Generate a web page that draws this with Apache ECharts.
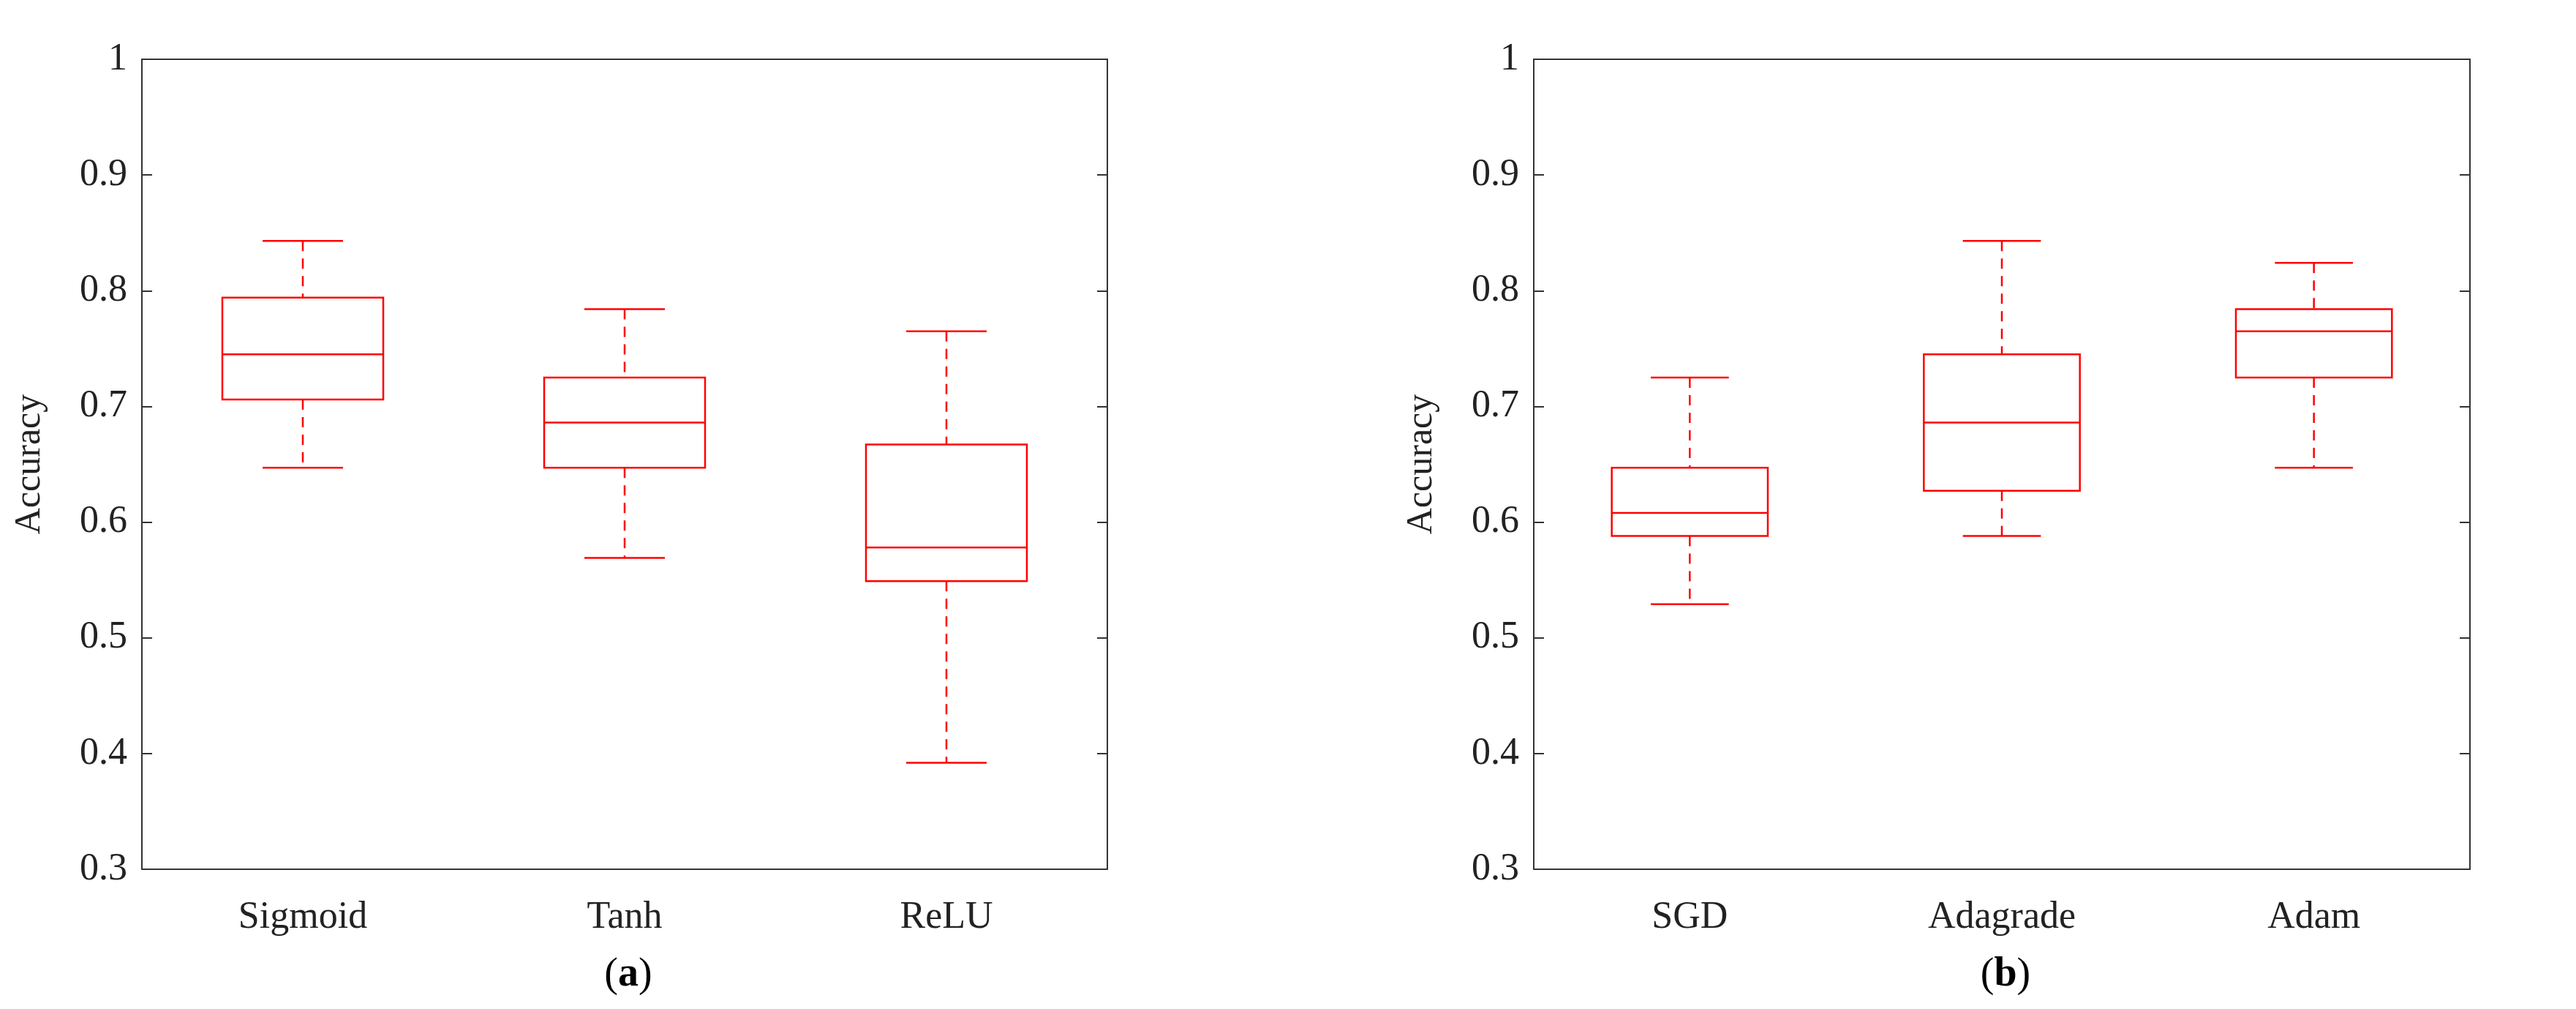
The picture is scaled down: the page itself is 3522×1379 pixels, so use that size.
<!DOCTYPE html>
<html><head><meta charset="utf-8">
<script src="https://cdn.jsdelivr.net/npm/echarts@6/dist/echarts.min.js"></script>
<style>html,body{margin:0;background:#fff}#c{width:3522px;height:1379px}</style>
</head><body><div id="c"></div>
<script>
var catsA = ['Sigmoid', 'Tanh', 'ReLU'];
var catsB = ['SGD', 'Adagrade', 'Adam'];
// [min, q1, median, q3, max]
var boxA = [
  [0.647, 0.706, 0.745, 0.794, 0.843],
  [0.569, 0.647, 0.686, 0.725, 0.784],
  [0.392, 0.549, 0.578, 0.667, 0.765]
];
var boxB = [
  [0.529, 0.588, 0.608, 0.647, 0.725],
  [0.588, 0.627, 0.686, 0.745, 0.843],
  [0.647, 0.725, 0.765, 0.784, 0.824]
];
var yTicks = [0.3, 0.4, 0.5, 0.6, 0.7, 0.8, 0.9, 1];

var chart = echarts.init(document.getElementById('c'));
var font = 'Liberation Serif';
var RED = '#ff0000';

function renderBox(params, api) {
  var x = api.value(0);
  var lo = api.coord([x, api.value(1)]);
  var q1 = api.coord([x, api.value(2)]);
  var md = api.coord([x, api.value(3)]);
  var q3 = api.coord([x, api.value(4)]);
  var hi = api.coord([x, api.value(5)]);
  var bw = api.size([1, 0])[0] * 0.5;
  var cw = bw * 0.5;
  var cx = lo[0];
  var solid = {stroke: RED, lineWidth: 2.5, fill: null};
  var dash = {stroke: RED, lineWidth: 2.5, lineDash: [14, 10]};
  return {
    type: 'group',
    children: [
      {type: 'line', shape: {x1: cx, y1: hi[1], x2: cx, y2: q3[1]}, style: dash},
      {type: 'line', shape: {x1: cx, y1: q1[1], x2: cx, y2: lo[1]}, style: dash},
      {type: 'line', shape: {x1: cx - cw / 2, y1: hi[1], x2: cx + cw / 2, y2: hi[1]}, style: solid},
      {type: 'line', shape: {x1: cx - cw / 2, y1: lo[1], x2: cx + cw / 2, y2: lo[1]}, style: solid},
      {type: 'rect', shape: {x: cx - bw / 2, y: q3[1], width: bw, height: q1[1] - q3[1]}, style: {stroke: RED, lineWidth: 2.5, fill: 'none'}},
      {type: 'line', shape: {x1: cx - bw / 2, y1: md[1], x2: cx + bw / 2, y2: md[1]}, style: solid}
    ]
  };
}

function toData(box) {
  return box.map(function (b, i) { return [i].concat(b); });
}

var grids = [
  {left: 194, width: 1320, top: 81, height: 1107},
  {left: 2097, width: 1280, top: 81, height: 1107}
];

function xAxis(i, cats) {
  return {
    gridIndex: i, type: 'category', data: cats,
    axisLine: {lineStyle: {color: '#333', width: 2}},
    axisTick: {alignWithLabel: true, inside: true, length: 14, lineStyle: {color: '#333', width: 2}},
    axisLabel: {fontFamily: font, fontSize: 52, color: '#222', margin: 40},
    splitLine: {show: false}
  };
}
function yAxis(i) {
  return {
    gridIndex: i, type: 'value', min: 0.3, max: 1, interval: 0.1,
    name: 'Accuracy', nameLocation: 'middle', nameGap: 128, nameRotate: 90,
    nameTextStyle: {fontFamily: font, fontSize: 50, color: '#222'},
    axisLine: {show: true, lineStyle: {color: '#333', width: 2}},
    axisTick: {show: true, inside: true, length: 14, lineStyle: {color: '#333', width: 2}},
    axisLabel: {fontFamily: font, fontSize: 52, color: '#222', margin: 20,
      formatter: function (v) { var r = Math.round(v * 10) / 10; return yTicks.indexOf(r) >= 0 ? String(r) : ''; }},
    splitLine: {show: false}
  };
}
// mirrored axes for top / right frame
function xTop(i, cats) {
  var a = xAxis(i, cats); a.position = 'top'; a.axisLabel = {show: false}; return a;
}
function yRight(i) {
  var a = yAxis(i); a.position = 'right'; a.name = ''; a.axisLabel = {show: false}; return a;
}

function panelTitle(letter, x) {
  return {
    text: '(' + '{b|' + letter + '})', left: x, top: 1300, textAlign: 'center',
    textStyle: {fontFamily: font, fontSize: 56, fontWeight: 'normal', color: '#000',
      rich: {b: {fontFamily: font, fontSize: 56, fontWeight: 'bold', color: '#000'}}}
  };
}

chart.setOption({
  animation: false,
  backgroundColor: '#fff',
  grid: grids,
  xAxis: [xAxis(0, catsA), xAxis(1, catsB), xTop(0, catsA), xTop(1, catsB)],
  yAxis: [yAxis(0), yAxis(1), yRight(0), yRight(1)],
  title: [panelTitle('a', 854), panelTitle('b', 2737)],
  series: [
    {type: 'custom', xAxisIndex: 0, yAxisIndex: 0, renderItem: renderBox, data: toData(boxA), encode: {x: 0, y: [1, 2, 3, 4, 5]}},
    {type: 'custom', xAxisIndex: 1, yAxisIndex: 1, renderItem: renderBox, data: toData(boxB), encode: {x: 0, y: [1, 2, 3, 4, 5]}}
  ]
});
</script></body></html>
